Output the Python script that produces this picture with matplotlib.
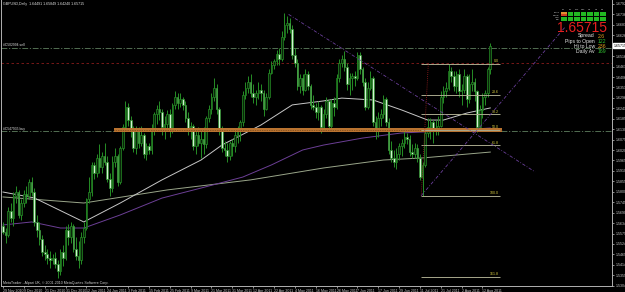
import matplotlib
matplotlib.use("Agg")
import matplotlib.pyplot as plt
from matplotlib.patches import Rectangle

W, H, DPI = 625, 292, 100

header_text = "GBPUSD,Daily  1.64491 1.65849 1.64240 1.65715"
copyright_text = "MetaTrader - Alpari UK, \u00a9 2001-2010 MetaQuotes Software Corp."

# ---------------- daily candles (29 Nov 2010 .. 17 Aug 2011) ----------------
opens = [
    1.5620, 1.5590, 1.5570, 1.5700, 1.5660, 1.5780, 1.5800, 1.5680, 1.5740, 1.5790,
    1.5780, 1.5850, 1.5800, 1.5640, 1.5600, 1.5550, 1.5480, 1.5470, 1.5450, 1.5440,
    1.5450, 1.5420, 1.5380, 1.5480, 1.5450, 1.5600, 1.5560, 1.5620, 1.5500, 1.5460,
    1.5440, 1.5560, 1.5610, 1.5760, 1.5800, 1.5940, 1.5900, 1.5980, 1.5930, 1.5990,
    1.5960, 1.5870, 1.5820, 1.5960, 1.5990, 1.5850, 1.6030, 1.6140, 1.6250, 1.6180,
    1.6120, 1.6030, 1.6120, 1.6060, 1.6100, 1.6000, 1.6040, 1.6020, 1.6130, 1.6210,
    1.6240, 1.6220, 1.6140, 1.6160, 1.6210, 1.6120, 1.6260, 1.6300, 1.6270, 1.6290,
    1.6260, 1.6190, 1.6120, 1.6150, 1.6040, 1.6100, 1.6060, 1.6080, 1.6050, 1.6190,
    1.6240, 1.6300, 1.6350, 1.6240, 1.6130, 1.6030, 1.6020, 1.5990, 1.6060, 1.6040,
    1.6100, 1.6120, 1.6170, 1.6310, 1.6350, 1.6380, 1.6320, 1.6300, 1.6320, 1.6340,
    1.6320, 1.6240, 1.6300, 1.6430, 1.6470, 1.6490, 1.6530, 1.6500, 1.6620, 1.6680,
    1.6690, 1.6660, 1.6520, 1.6480, 1.6360, 1.6400, 1.6340, 1.6420, 1.6360, 1.6260,
    1.6250, 1.6220, 1.6250, 1.6140, 1.6210, 1.6280, 1.6150, 1.6270, 1.6250, 1.6400,
    1.6480, 1.6500, 1.6460, 1.6370, 1.6400, 1.6410, 1.6400, 1.6520, 1.6450, 1.6380,
    1.6250, 1.6350, 1.6400, 1.6170, 1.6120, 1.6190, 1.6210, 1.6290, 1.6170, 1.6020,
    1.5980, 1.5960, 1.6000, 1.6040, 1.6060, 1.6090, 1.6080, 1.6010, 1.6000, 1.6030,
    1.5980, 1.5880, 1.5940, 1.6110, 1.6140, 1.6170, 1.6120, 1.6130, 1.6150, 1.6300,
    1.6330, 1.6350, 1.6440, 1.6410, 1.6360, 1.6420, 1.6330, 1.6340, 1.6410, 1.6290,
    1.6370, 1.6380, 1.6330, 1.6140, 1.6230, 1.6300, 1.6320, 1.64491,
]
highs = [
    1.5640, 1.5610, 1.5720, 1.5740, 1.5800, 1.5830, 1.5810, 1.5760, 1.5810, 1.5830,
    1.5870, 1.5880, 1.5820, 1.5680, 1.5640, 1.5570, 1.5520, 1.5500, 1.5490, 1.5470,
    1.5480, 1.5440, 1.5500, 1.5520, 1.5620, 1.5630, 1.5640, 1.5630, 1.5560, 1.5540,
    1.5590, 1.5640, 1.5770, 1.5880, 1.5960, 1.5960, 1.6000, 1.6050, 1.6010, 1.6060,
    1.5990, 1.5900, 1.5990, 1.6030, 1.6000, 1.6040, 1.6160, 1.6280, 1.6270, 1.6200,
    1.6150, 1.6150, 1.6140, 1.6150, 1.6110, 1.6060, 1.6060, 1.6160, 1.6220, 1.6260,
    1.6280, 1.6240, 1.6200, 1.6230, 1.6240, 1.6270, 1.6330, 1.6320, 1.6320, 1.6300,
    1.6280, 1.6220, 1.6170, 1.6160, 1.6120, 1.6140, 1.6120, 1.6140, 1.6200, 1.6260,
    1.6320, 1.6400, 1.6370, 1.6250, 1.6150, 1.6070, 1.6060, 1.6070, 1.6080, 1.6130,
    1.6150, 1.6180, 1.6330, 1.6380, 1.6410, 1.6420, 1.6370, 1.6340, 1.6380, 1.6370,
    1.6340, 1.6320, 1.6450, 1.6490, 1.6500, 1.6550, 1.6560, 1.6650, 1.6746, 1.6730,
    1.6720, 1.6680, 1.6560, 1.6500, 1.6420, 1.6420, 1.6450, 1.6440, 1.6370, 1.6310,
    1.6270, 1.6280, 1.6260, 1.6240, 1.6300, 1.6290, 1.6290, 1.6300, 1.6420, 1.6500,
    1.6520, 1.6546, 1.6480, 1.6430, 1.6430, 1.6440, 1.6540, 1.6540, 1.6460, 1.6400,
    1.6380, 1.6440, 1.6410, 1.6200, 1.6220, 1.6240, 1.6310, 1.6300, 1.6190, 1.6070,
    1.6020, 1.6030, 1.6060, 1.6080, 1.6120, 1.6110, 1.6100, 1.6050, 1.6060, 1.6050,
    1.6000, 1.5960, 1.6130, 1.6190, 1.6190, 1.6180, 1.6180, 1.6200, 1.6330, 1.6360,
    1.6380, 1.6475, 1.6460, 1.6440, 1.6440, 1.6450, 1.6370, 1.6450, 1.6420, 1.6420,
    1.6450, 1.6400, 1.6340, 1.6260, 1.6320, 1.6340, 1.6460, 1.65849,
]
lows = [
    1.5575, 1.5530, 1.5560, 1.5640, 1.5620, 1.5740, 1.5660, 1.5650, 1.5720, 1.5740,
    1.5760, 1.5780, 1.5620, 1.5560, 1.5520, 1.5460, 1.5440, 1.5420, 1.5400, 1.5420,
    1.5400, 1.5345, 1.5360, 1.5410, 1.5440, 1.5520, 1.5530, 1.5480, 1.5440, 1.5400,
    1.5420, 1.5530, 1.5600, 1.5740, 1.5780, 1.5870, 1.5880, 1.5900, 1.5900, 1.5940,
    1.5850, 1.5780, 1.5800, 1.5930, 1.5830, 1.5840, 1.6020, 1.6120, 1.6150, 1.6090,
    1.6010, 1.6000, 1.6030, 1.6040, 1.5980, 1.5970, 1.6000, 1.6000, 1.6100, 1.6160,
    1.6180, 1.6100, 1.6080, 1.6120, 1.6090, 1.6110, 1.6240, 1.6240, 1.6250, 1.6230,
    1.6170, 1.6100, 1.6080, 1.6020, 1.6000, 1.6040, 1.5980, 1.6000, 1.6030, 1.6170,
    1.6210, 1.6280, 1.6210, 1.6100, 1.6010, 1.5990, 1.5960, 1.5970, 1.5990, 1.6010,
    1.6060, 1.6070, 1.6150, 1.6290, 1.6320, 1.6300, 1.6270, 1.6260, 1.6290, 1.6280,
    1.6200, 1.6230, 1.6290, 1.6420, 1.6450, 1.6470, 1.6470, 1.6490, 1.6600, 1.6640,
    1.6640, 1.6500, 1.6460, 1.6340, 1.6320, 1.6310, 1.6330, 1.6340, 1.6240, 1.6230,
    1.6190, 1.6180, 1.6110, 1.6130, 1.6190, 1.6120, 1.6130, 1.6200, 1.6240, 1.6380,
    1.6460, 1.6440, 1.6340, 1.6310, 1.6340, 1.6360, 1.6390, 1.6420, 1.6360, 1.6230,
    1.6240, 1.6340, 1.6150, 1.6080, 1.6090, 1.6150, 1.6190, 1.6150, 1.6000, 1.5960,
    1.5930, 1.5920, 1.5970, 1.5990, 1.6030, 1.6050, 1.5990, 1.5980, 1.5980, 1.5960,
    1.5860, 1.5780, 1.5930, 1.6090, 1.6080, 1.6060, 1.6100, 1.6100, 1.6140, 1.6270,
    1.6300, 1.6340, 1.6380, 1.6330, 1.6320, 1.6300, 1.6260, 1.6320, 1.6250, 1.6270,
    1.6330, 1.6280, 1.6115, 1.6120, 1.6190, 1.6260, 1.6300, 1.64240,
]
closes = [
    1.5590, 1.5570, 1.5700, 1.5660, 1.5780, 1.5800, 1.5680, 1.5740, 1.5790, 1.5780,
    1.5850, 1.5800, 1.5640, 1.5600, 1.5550, 1.5480, 1.5470, 1.5450, 1.5440, 1.5450,
    1.5420, 1.5380, 1.5480, 1.5450, 1.5600, 1.5560, 1.5620, 1.5500, 1.5460, 1.5440,
    1.5560, 1.5610, 1.5760, 1.5800, 1.5940, 1.5900, 1.5980, 1.5930, 1.5990, 1.5960,
    1.5870, 1.5820, 1.5960, 1.5990, 1.5850, 1.6030, 1.6140, 1.6250, 1.6180, 1.6120,
    1.6030, 1.6120, 1.6060, 1.6100, 1.6000, 1.6040, 1.6020, 1.6130, 1.6210, 1.6240,
    1.6220, 1.6140, 1.6160, 1.6210, 1.6120, 1.6260, 1.6300, 1.6270, 1.6290, 1.6260,
    1.6190, 1.6120, 1.6150, 1.6040, 1.6100, 1.6060, 1.6080, 1.6050, 1.6190, 1.6240,
    1.6300, 1.6350, 1.6240, 1.6130, 1.6030, 1.6020, 1.5990, 1.6060, 1.6040, 1.6100,
    1.6120, 1.6170, 1.6310, 1.6350, 1.6380, 1.6320, 1.6300, 1.6320, 1.6340, 1.6320,
    1.6240, 1.6300, 1.6430, 1.6470, 1.6490, 1.6530, 1.6500, 1.6620, 1.6680, 1.6690,
    1.6660, 1.6520, 1.6480, 1.6360, 1.6400, 1.6340, 1.6420, 1.6360, 1.6260, 1.6250,
    1.6220, 1.6250, 1.6140, 1.6210, 1.6280, 1.6150, 1.6270, 1.6250, 1.6400, 1.6480,
    1.6500, 1.6460, 1.6370, 1.6400, 1.6410, 1.6400, 1.6520, 1.6450, 1.6380, 1.6250,
    1.6350, 1.6400, 1.6170, 1.6120, 1.6190, 1.6210, 1.6290, 1.6170, 1.6020, 1.5980,
    1.5960, 1.6000, 1.6040, 1.6060, 1.6090, 1.6080, 1.6010, 1.6000, 1.6030, 1.5980,
    1.5880, 1.5940, 1.6110, 1.6140, 1.6170, 1.6120, 1.6130, 1.6150, 1.6300, 1.6330,
    1.6350, 1.6440, 1.6410, 1.6360, 1.6420, 1.6330, 1.6340, 1.6410, 1.6290, 1.6370,
    1.6380, 1.6330, 1.6140, 1.6230, 1.6300, 1.6320, 1.6449, 1.65715,
]

# ---------------- date axis labels (one every 8 bars) ----------------
date_labels = ["29 Nov 2010", "9 Dec 2010", "21 Dec 2010", "31 Dec 2010", "12 Jan 2011",
               "24 Jan 2011", "3 Feb 2011", "15 Feb 2011", "25 Feb 2011", "9 Mar 2011",
               "21 Mar 2011", "31 Mar 2011", "12 Apr 2011", "22 Apr 2011", "4 May 2011",
               "16 May 2011", "26 May 2011", "7 Jun 2011", "17 Jun 2011", "29 Jun 2011",
               "11 Jul 2011", "21 Jul 2011", "2 Aug 2011", "12 Aug 2011"]
date_label_bars = [0, 8, 16, 24, 32, 40, 48, 56, 64, 72, 80, 88, 96, 104, 112, 120,
                   128, 136, 144, 152, 160, 168, 176, 184]

# ---------------- moving averages (sampled) ----------------
fast_ma_bars = [0, 12, 31, 45, 61, 76, 84, 99, 111, 123, 130, 142, 153, 163, 169, 178, 187]
fast_ma = [1.5799, 1.5768, 1.5641, 1.5741, 1.5863, 1.5968, 1.6047, 1.6153, 1.6259, 1.6280,
           1.6295, 1.6285, 1.6232, 1.6179, 1.6179, 1.6216, 1.6243]
mid_ma_bars = [0, 11, 22, 31, 45, 61, 76, 92, 103, 115, 123, 138, 153, 169, 187]
mid_ma = [1.5625, 1.5641, 1.5609, 1.5609, 1.5678, 1.5767, 1.5820, 1.5878, 1.5942, 1.6021,
          1.6047, 1.6084, 1.6111, 1.6121, 1.6137]
slow_ma_bars = [0, 31, 63, 95, 123, 146, 161, 187]
slow_ma = [1.5773, 1.5741, 1.5810, 1.5863, 1.5926, 1.5968, 1.5979, 1.6010]

# ---------------- drawing objects ----------------
fib_levels = [0.0, 23.6, 38.2, 50.0, 61.8, 100.0, 161.8]
fib_high, fib_low = 1.6475, 1.5780
fib_bars = (160.5, 190.8)
fib_trend = ([160.5, 163.2], [1.5780, 1.6475])
down_trend = ([109.6, 204.2], [1.6737, 1.5905])
up_trend = ([160.5, 215.7], [1.5780, 1.6670])
sell_price, sell_label = 1.6562, "#C502994 sell"
buy_price, buy_label = 1.6119, "#C547935 buy"
red_level = 1.6480
zone_price, zone_bars = 1.6127, (42.5, 191.6)
current_price = 1.65715

# info panel
tf_labels = ["M1", "M5", "M15", "M30", "H1", "H4", "D1"]
row_labels = ["Trend", "MACD", "STO", "RSI"]
signals = [[0, 1, 1, 1, 1, 1, 1],
           [-1, 1, 1, 1, 1, 1, 1],
           [1, 1, 1, 1, 1, 1, 1],
           [1, 1, 1, 1, 1, 1, 1]]
stat_labels = ["Spread", "Pips to Open", "Hi to Low", "Daily Av"]
stat_values = ["2.6", "122", "236", "169"]
stat_colors = ["#e0a020", "#30c030", "#e0a020", "#30c030"]

# ---------------- figure ----------------
BG = "black"
YMIN, YMAX = 1.53028, 1.68129
fig = plt.figure(figsize=(W / DPI, H / DPI), dpi=DPI, facecolor=BG)
ax = fig.add_axes([0.0016, 6 / H, 612 / W - 0.0016, 286 / H])
ax.set_facecolor(BG)
ax.set_xlim(-0.77, 233.7)
ax.set_ylim(YMIN, YMAX)

n = len(closes)
xs = list(range(n))
edge = "#268e26"
ax.vlines(xs, lows, highs, color=edge, lw=0.7, zorder=3)
bull_fill, bear_fill = "#0a250a", "#d2f2d2"
fills = [bull_fill if c >= o else bear_fill for o, c in zip(opens, closes)]
heights = [c - o for o, c in zip(opens, closes)]
ax.bar(xs, heights, bottom=opens, width=0.62, color=fills, edgecolor=edge,
       linewidth=0.5, zorder=4)

# moving averages
ax.plot(slow_ma_bars, slow_ma, color="#9aa68a", lw=0.7, zorder=2)
ax.plot(mid_ma_bars, mid_ma, color="#6c3f96", lw=0.7, zorder=2)
ax.plot(fast_ma_bars, fast_ma, color="#c8c8c8", lw=0.7, zorder=2)

# horizontal lines
dashdot = (0, (7, 2, 1.5, 2))
ax.axhline(sell_price, color="#5f7f5f", lw=0.6, ls=dashdot, zorder=1)
ax.axhline(buy_price, color="#5f7f5f", lw=0.6, ls=dashdot, zorder=1)
ax.axhline(red_level, color="#8a1c1c", lw=0.6, ls=(0, (3, 3)), zorder=1)

# orange zone
zh = 0.0022
ax.add_patch(Rectangle((zone_bars[0], zone_price - zh / 2), zone_bars[1] - zone_bars[0], zh,
                       facecolor="#b97330", edgecolor="none", zorder=5))
ax.plot(zone_bars, [zone_price, zone_price], color="#5a3412", lw=0.5, ls=(0, (1, 1.5)), zorder=6)

# fibonacci
fib_prices = [fib_high - lv / 100 * (fib_high - fib_low) for lv in fib_levels]
ax.hlines(fib_prices, fib_bars[0], fib_bars[1], color="#a8a88c", lw=0.7, zorder=6)
for lv, p in zip(fib_levels, fib_prices):
    ax.text(fib_bars[1] - 0.5, p + 0.0003, f"{lv:.1f}", color="#d8cc40", fontsize=2.6,
            ha="right", va="bottom", family="Liberation Sans", zorder=7)
ax.plot(*fib_trend, color="#a02020", lw=0.6, ls=(0, (1, 1.5)), zorder=6)

# trend lines
ax.plot(*down_trend, color="#6a3f9a", lw=0.6, ls=(0, (4, 2, 1, 2)), zorder=6)
ax.plot(*up_trend, color="#6a3f9a", lw=0.6, ls=(0, (4, 2, 1, 2)), zorder=6)

# axes styling
ax.spines["top"].set_visible(False)
for s in ["left", "bottom", "right"]:
    ax.spines[s].set_color("#b0b0b0")
    ax.spines[s].set_linewidth(0.7)

ax.yaxis.tick_right()
yt = [1.67920 - 0.00551 * k for k in range(28)]
yt = [v for v in yt if abs(v - current_price) > 0.003]
ax.set_yticks(yt)
ax.set_yticklabels([f"{v:.5f}" for v in yt])
ax.tick_params(axis="y", colors="#c8c8c8", labelsize=2.6, length=1.5, width=0.5, pad=1)
ax.set_xticks(date_label_bars)
ax.set_xticklabels(date_labels, ha="left")
ax.tick_params(axis="x", colors="#c8c8c8", labelsize=2.6, length=1.5, width=0.5, pad=0.5)
for lab in ax.get_xticklabels() + ax.get_yticklabels():
    lab.set_family("Liberation Sans")

# ---------------- overlay (pixel coordinates) ----------------
ov = fig.add_axes([0, 0, 1, 1], facecolor="none")
ov.set_xlim(0, W)
ov.set_ylim(H, 0)
ov.axis("off")

fontf = "Liberation Sans"
ov.text(3, 3.5, header_text, color="#e0e0e0", fontsize=2.6, family=fontf, va="center")
ov.text(3, 283, copyright_text, color="#d0d0d0", fontsize=2.6, family=fontf, va="center")


def yp(price):
    return (YMAX - price) / (YMAX - YMIN) * 286


ov.text(3, yp(sell_price) - 2.5, sell_label, color="#e0e0e0", fontsize=2.4, family=fontf, va="center")
ov.text(3, yp(buy_price) - 2.5, buy_label, color="#e0e0e0", fontsize=2.4, family=fontf, va="center")

# current price tag on axis
ov.text(613.5, yp(current_price), f"{current_price:.5f}", color="black", fontsize=2.6,
        family=fontf, va="center", ha="left",
        bbox=dict(boxstyle="square,pad=0.15", fc="white", ec="white"))

# signal table
col_x0, col_pitch, cell_w = 561, 6.5, 5.5
row_y0, row_pitch, cell_h = 11.5, 2.5, 2.0
sig_colors = {1: "#22b822", 0: "#e09030", -1: "#d04020"}
for j, t in enumerate(tf_labels):
    ov.text(col_x0 + j * col_pitch + cell_w / 2, 9.3, t, color="#d0d0d0", fontsize=1.6,
            family=fontf, ha="center", va="center")
for r, (rl, row) in enumerate(zip(row_labels, signals)):
    y = row_y0 + r * row_pitch
    ov.text(559.5, y + cell_h / 2, rl, color="#d0d0d0", fontsize=1.6, family=fontf,
            ha="right", va="center")
    for j, s in enumerate(row):
        ov.add_patch(Rectangle((col_x0 + j * col_pitch, y), cell_w, cell_h,
                               facecolor=sig_colors[s], edgecolor="none"))

ov.text(607, 28, f"{current_price:.5f}", color="#e82020", fontsize=10, family=fontf,
        ha="right", va="center")
for k, (lab, val, col) in enumerate(zip(stat_labels, stat_values, stat_colors)):
    y = 36 + k * 5.3
    ov.text(595, y, lab, color="#e8e8e8", fontsize=3.7, family=fontf, ha="right", va="center")
    ov.text(598, y, val, color=col, fontsize=3.7, family=fontf, ha="left", va="center")

fig.savefig("out.png", dpi=DPI, facecolor=BG)
